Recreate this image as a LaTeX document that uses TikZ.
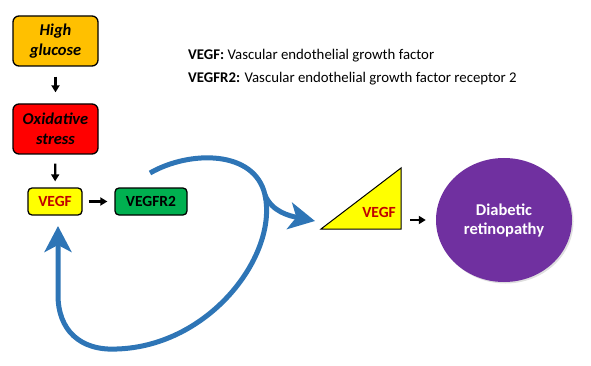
\documentclass[tikz,border=0pt]{standalone}
\usepackage{fontspec}
\setmainfont{Carlito}
\usetikzlibrary{arrows.meta,shadows,shapes.geometric}
\definecolor{cOrange}{HTML}{FFC000}
\definecolor{cRed}{HTML}{FF0000}
\definecolor{cYellow}{HTML}{FFFF00}
\definecolor{cGreen}{HTML}{00B050}
\definecolor{cDarkRed}{HTML}{C00000}
\definecolor{cPurple}{HTML}{7030A0}
\definecolor{cBlue}{HTML}{2E75B6}
\tikzset{
  box/.style={draw=black, line width=1.3pt, rounded corners=6pt, align=center, inner sep=0pt},
  bigtext/.style={font=\fontsize{16.5}{20}\selectfont\bfseries\itshape},
  smalltext/.style={font=\fontsize{15.5}{18}\selectfont\bfseries},
  blk/.style={-{Triangle[length=7pt,width=8pt]}, line width=2.2pt, black},
  loopline/.style={draw=cBlue, line width=5pt},
  bigtip/.style={-{Stealth[length=26pt,width=27pt,inset=7pt]}},
}
\begin{document}
\begin{tikzpicture}[x=1pt,y=-1pt]
\useasboundingbox (0,0) rectangle (591,366);
% left column
\node[box, bigtext, fill=cOrange, minimum width=85pt, minimum height=50pt] (hg) at (55.5,41) {High\\glucose};
\node[box, bigtext, fill=cRed, minimum width=85pt, minimum height=50pt] (ox) at (55.5,129) {Oxidative\\stress};
\node[box, smalltext, fill=cYellow, text=cDarkRed, minimum width=54pt, minimum height=27pt, rounded corners=4pt] (vegf) at (55,201.5) {VEGF};
\node[box, smalltext, fill=cGreen, text=black, minimum width=72pt, minimum height=27pt, rounded corners=4pt] (vr2) at (151,201.5) {VEGFR2};
\draw[blk, shorten <=10pt, shorten >=11pt] (hg) -- (ox);
\draw[blk, shorten <=9pt, shorten >=6pt] (ox) -- (vegf);
\draw[blk, shorten <=6pt, shorten >=7pt] (vegf) -- (vr2);
% legend
\node[anchor=base west, font=\fontsize{14.8}{17}\selectfont, inner sep=0pt] (leg1) at (188,60) {\textbf{VEGF:} Vascular endothelial growth factor};
\node[anchor=base west, font=\fontsize{14.8}{17}\selectfont, inner sep=0pt] (leg2) at (188,83) {\textbf{VEGFR2:} Vascular endothelial growth factor receptor 2};
% triangle
\coordinate (tbl) at (321,229);
\coordinate (tbr) at (401,229);
\coordinate (ttr) at (401,168);
\draw[fill=cYellow, line width=1pt, line join=miter] (tbl) -- (tbr) -- (ttr) -- cycle;
\node[smalltext, text=cDarkRed, anchor=east, inner sep=0pt] (tv) at (396,212) {VEGF};
\coordinate (tri) at (401,220);
% circle
\node[ellipse, minimum width=136pt, minimum height=124pt, fill=cPurple, inner sep=0pt,
      drop shadow={opacity=0.25, shadow xshift=1.5pt, shadow yshift=-1.5pt},
      text=white, align=center, font=\fontsize{16.5}{19}\selectfont\bfseries] (dr) at (504,220) {Diabetic\\retinopathy};
\draw[blk, shorten <=9pt, shorten >=10pt] (tri) -- (dr.west);
% blue loop
\coordinate (s) at (150,173);
\coordinate (m) at (265,195);
\coordinate (bot) at (117,349);
\coordinate (lft) at (58,295);
\coordinate (tipL) at (58,226);
\coordinate (tipR) at (315,221);
\draw[loopline, bigtip] (s) .. controls (190,150) and (255,150) .. (m)
   .. controls (278,255) and (210,346) .. (bot)
   .. controls (80,351) and (58,330) .. (lft) -- (tipL);
\draw[loopline, bigtip] (m) .. controls (272,212) and (290,216) .. (tipR);
\end{tikzpicture}
\end{document}
